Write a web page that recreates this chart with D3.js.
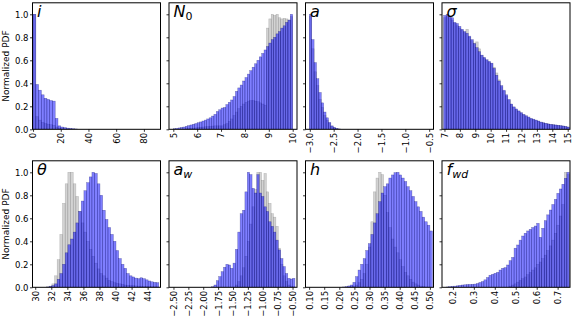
<!DOCTYPE html>
<html>
<head>
<meta charset="utf-8">
<script src="https://cdn.jsdelivr.net/npm/d3@7"></script>
<style>
	body { margin: 0; background: #fff; }
	svg { display: block; font-family: "DejaVu Sans", sans-serif; }
</style>
</head>
<body>
<div id="chart"></div>
<script>

// ---- data (normalized histogram heights) ----

// i
const iBinStart = 0, iBinWidth = 2;
const iBlue = [1.0, 0.39, 0.34, 0.30, 0.27, 0.26, 0.25, 0.245, 0.095, 0.03, 0.02, 0.015, 0.01, 0.008, 0.005, 0.003];
const iGrey = [1.0, 0.11, 0.08, 0.06, 0.05, 0.045, 0.04, 0.035, 0.02, 0.01, 0.005, 0.004, 0.003, 0.002, 0.001, 0];
const iTicks = [0, 20, 40, 60, 80];

// N0
const n0BinStart = 5.0, n0BinWidth = 0.1;
const n0Blue = [0.005, 0.008, 0.012, 0.016, 0.02, 0.026, 0.032, 0.038, 0.044, 0.05,
	0.057, 0.064, 0.072, 0.08, 0.09, 0.1, 0.115, 0.13, 0.155, 0.17,
	0.185, 0.19, 0.215, 0.235, 0.255, 0.285, 0.33, 0.36, 0.385, 0.42,
	0.45, 0.48, 0.51, 0.54, 0.57, 0.6, 0.63, 0.66, 0.69, 0.72,
	0.75, 0.78, 0.8, 0.83, 0.85, 0.88, 0.9, 0.93, 0.95, 1.0];
const n0Grey = [0, 0, 0, 0, 0.002, 0.004, 0.006, 0.008, 0.01, 0.012,
	0.015, 0.018, 0.02, 0.022, 0.024, 0.026, 0.028, 0.03, 0.03, 0.03,
	0.03, 0.04, 0.05, 0.07, 0.09, 0.12, 0.15, 0.18, 0.2, 0.22,
	0.235, 0.245, 0.25, 0.25, 0.245, 0.24, 0.23, 0.22, 0.21, 0.88,
	0.96, 1.0, 0.99, 1.0, 0.97, 0.96, 0.965, 0.96, 0.95, 0.98];
const n0Ticks = [5, 6, 7, 8, 9, 10];

// a
const aBinStart = -3.01, aBinWidth = 0.05;
const aBlue = [1.0, 0.78, 0.58, 0.44, 0.32, 0.23, 0.15, 0.10, 0.06, 0.03, 0.017, 0.008, 0.003];
const aGrey = [0.98, 0.7, 0.5, 0.38, 0.26, 0.19, 0.12, 0.08, 0.05, 0.025, 0.012, 0.005, 0.002];
const aTicks = [-3.0, -2.5, -2.0, -1.5, -1.0, -0.5];

// sigma
const sigBinStart = 6.95, sigBinWidth = 0.16;
const sigBlue = [0.99, 1.0, 0.985, 0.97, 0.93, 0.92, 0.895, 0.87, 0.85, 0.835,
	0.81, 0.78, 0.745, 0.71, 0.675, 0.645, 0.625, 0.605, 0.59, 0.575,
	0.53, 0.47, 0.42, 0.38, 0.34, 0.3, 0.26, 0.22, 0.195, 0.177,
	0.16, 0.145, 0.13, 0.118, 0.107, 0.095, 0.088, 0.08, 0.072, 0.063,
	0.057, 0.052, 0.047, 0.043, 0.04, 0.038, 0.035, 0.032, 0.029, 0.025, 0.02];
const sigGrey = [0.97, 0.98, 0.97, 0.95, 0.92, 0.9, 0.88, 0.86, 0.84, 0.87,
	0.8, 0.77, 0.75, 0.76, 0.7, 0.64, 0.62, 0.6, 0.585, 0.57,
	0.54, 0.49, 0.43, 0.37, 0.33, 0.29, 0.25, 0.215, 0.19, 0.17,
	0.155, 0.14, 0.125, 0.112, 0.1, 0.09, 0.082, 0.075, 0.068, 0.06,
	0.054, 0.049, 0.045, 0.041, 0.038, 0.035, 0.032, 0.03, 0.027, 0.023, 0.018];
const sigTicks = [7, 8, 9, 10, 11, 12, 13, 14, 15];

// theta
const thBinStart = 31.4, thBinWidth = 0.333;
const thBlue = [0.003, 0.008, 0.015, 0.03, 0.07, 0.12, 0.2, 0.3, 0.37, 0.42,
	0.48, 0.56, 0.66, 0.75, 0.84, 0.91, 0.96, 1.0, 0.99, 0.9,
	0.8, 0.67, 0.59, 0.52, 0.46, 0.4, 0.32, 0.25, 0.2, 0.165,
	0.12, 0.1, 0.09, 0.08, 0.075, 0.083, 0.075, 0.065, 0.055, 0.048,
	0.043, 0.04];
const thGrey = [0.003, 0.01, 0.03, 0.1, 0.24, 0.46, 0.73, 0.9, 1.0, 1.0,
	0.9, 0.79, 0.66, 0.56, 0.48, 0.4, 0.33, 0.27, 0.21, 0.16,
	0.12, 0.1, 0.08, 0.06, 0.05, 0.04, 0.035, 0.03, 0.025, 0.02,
	0.018, 0.016, 0.014, 0.012, 0.01, 0.01, 0.008, 0.008, 0.006, 0.005,
	0.004, 0.004];
const thTicks = [30, 32, 34, 36, 38, 40, 42, 44];

// a_w
const awBinStart = -1.86, awBinWidth = 0.04;
const awBlue = [0.005, 0.02, 0.058, 0.093, 0.136, 0.174, 0.2, 0.194, 0.165, 0.21,
	0.33, 0.48, 0.64, 0.67, 0.83, 1.0, 0.98, 0.86, 0.82, 0.98,
	0.82, 0.79, 0.7, 0.66, 0.57, 0.53, 0.48, 0.41, 0.325, 0.25,
	0.18, 0.12, 0.078, 0.072, 0.078];
const awGrey = [0, 0, 0, 0, 0, 0, 0, 0, 0, 0,
	0.02, 0.05, 0.1, 0.17, 0.27, 0.4, 0.55, 0.7, 0.85, 1.0,
	1.0, 0.93, 0.99, 0.83, 0.73, 0.64, 0.61, 0.53, 0.34, 0.2,
	0.1, 0.05, 0.02, 0.01, 0.005];
const awTicks = [-2.5, -2.25, -2.0, -1.75, -1.5, -1.25, -1.0, -0.75, -0.5];

// h
const hBinStart = 0.211, hBinWidth = 0.0085;
const hBlue = [0.003, 0.006, 0.012, 0.02, 0.043, 0.093, 0.15, 0.2, 0.25, 0.32,
	0.38, 0.46, 0.56, 0.64, 0.745, 0.82, 0.875, 0.9, 0.95, 0.977,
	0.997, 1.0, 0.977, 0.95, 0.92, 0.875, 0.84, 0.79, 0.745, 0.7,
	0.66, 0.61, 0.57, 0.54, 0.49];
const hGrey = [0, 0, 0.002, 0.005, 0.01, 0.02, 0.04, 0.07, 0.12, 0.2,
	0.35, 0.57, 0.83, 0.95, 1.0, 0.98, 0.8, 0.65, 0.52, 0.42,
	0.35, 0.3, 0.24, 0.18, 0.13, 0.1, 0.07, 0.045, 0.03, 0.02,
	0.01, 0.006, 0.003, 0.002, 0.001];
const hTicks = [0.10, 0.15, 0.20, 0.25, 0.30, 0.35, 0.40, 0.45, 0.50];

// f_wd
const fBinStart = 0.168, fBinWidth = 0.012;
const fBlue = [0.003, 0.006, 0.008, 0.01, 0.013, 0.017, 0.02, 0.022, 0.024, 0.025,
	0.026, 0.028, 0.033, 0.042, 0.05, 0.065, 0.085, 0.105, 0.113, 0.122,
	0.13, 0.15, 0.165, 0.171, 0.194, 0.232, 0.26, 0.34, 0.368, 0.41,
	0.446, 0.47, 0.49, 0.504, 0.52, 0.533, 0.556, 0.435, 0.513, 0.58,
	0.63, 0.672, 0.72, 0.765, 0.817, 0.855, 0.896, 0.948, 1.0];
const fGrey = [0, 0, 0, 0, 0, 0, 0, 0, 0, 0,
	0, 0, 0, 0, 0, 0, 0, 0, 0, 0,
	0, 0, 0, 0, 0, 0.01, 0.02, 0.03, 0.045, 0.06,
	0.075, 0.09, 0.11, 0.13, 0.15, 0.17, 0.2, 0.22, 0.25, 0.28,
	0.32, 0.36, 0.41, 0.47, 0.54, 0.62, 0.72, 1.0, 0.98];
const fTicks = [0.2, 0.3, 0.4, 0.5, 0.6, 0.7];

const yTicks = [0.0, 0.2, 0.4, 0.6, 0.8, 1.0];


/*
 * HistPanel - one subplot with a grey and a blue (semi-transparent) histogram
 */
class HistPanel {

	constructor(svg, config) {
		this.svg = svg;
		this.config = config;
		this.initVis();
	}

	initVis() {
		let vis = this;

		vis.width = 128;
		vis.height = 126.5;

		vis.g = vis.svg.append("g")
			.attr("transform", "translate(" + vis.config.left + "," + vis.config.top + ")");

		vis.x = d3.scaleLinear()
			.domain(vis.config.domain)
			.range([0, vis.width]);

		vis.y = d3.scaleLinear()
			.domain([0, 1.1])
			.range([vis.height, 0]);

		vis.g.append("clipPath")
			.attr("id", "clip-" + vis.config.id)
			.append("rect")
			.attr("width", vis.width)
			.attr("height", vis.height);

		vis.bars = vis.g.append("g")
			.attr("clip-path", "url(#clip-" + vis.config.id + ")");

		vis.wrangleData();
	}

	wrangleData() {
		let vis = this;
		let c = vis.config;

		vis.displayData = c.blue.map((v, i) => ({
			x0: c.start + i * c.step,
			x1: c.start + (i + 1) * c.step,
			blue: v,
			grey: c.grey[i]
		}));

		vis.updateVis();
	}

	updateVis() {
		let vis = this;
		let c = vis.config;

		// grey histogram underneath
		vis.bars.selectAll(".grey").data(vis.displayData.filter(d => d.grey > 0))
			.enter().append("rect")
			.attr("class", "grey")
			.attr("x", d => vis.x(d.x0))
			.attr("width", d => vis.x(d.x1) - vis.x(d.x0))
			.attr("y", d => vis.y(d.grey))
			.attr("height", d => vis.y(0) - vis.y(d.grey))
			.attr("fill", "#a8a8a8")
			.attr("fill-opacity", 0.5)
			.attr("stroke", "#555")
			.attr("stroke-opacity", 0.35)
			.attr("stroke-width", 0.5);

		// blue histogram on top
		vis.bars.selectAll(".blue").data(vis.displayData)
			.enter().append("rect")
			.attr("class", "blue")
			.attr("x", d => vis.x(d.x0))
			.attr("width", d => vis.x(d.x1) - vis.x(d.x0))
			.attr("y", d => vis.y(d.blue))
			.attr("height", d => vis.y(0) - vis.y(d.blue))
			.attr("fill", "#0000ff")
			.attr("fill-opacity", 0.5)
			.attr("stroke", "#000060")
			.attr("stroke-opacity", 0.45)
			.attr("stroke-width", 0.5);

		// x axis, labels rotated
		let xAxis = d3.axisBottom(vis.x)
			.tickValues(c.ticks)
			.tickFormat(d3.format(c.fmt))
			.tickSize(2.5);

		let xg = vis.g.append("g")
			.attr("transform", "translate(0," + vis.height + ")")
			.call(xAxis);
		xg.select(".domain").remove();
		xg.selectAll("line").attr("stroke-width", 0.8);
		xg.selectAll("text")
			.attr("transform", "rotate(-90)")
			.attr("text-anchor", "end")
			.attr("x", -3.5)
			.attr("y", 0)
			.attr("dy", "0.34em")
			.attr("font-size", 8.5)
			.attr("font-family", "DejaVu Sans")
			.attr("fill", "#000");

		// y axis, labels only on first column
		let yAxis = d3.axisLeft(vis.y)
			.tickValues(yTicks)
			.tickFormat(c.col === 0 ? d3.format(".1f") : "")
			.tickSize(2.5)
			.tickPadding(1.5);

		let yg = vis.g.append("g").call(yAxis);
		yg.select(".domain").remove();
		yg.selectAll("line").attr("stroke-width", 0.8);
		yg.selectAll("text")
			.attr("font-size", 8.5)
			.attr("font-family", "DejaVu Sans")
			.attr("fill", "#000");

		if (c.col === 0) {
			vis.g.append("text")
				.attr("transform", "translate(" + (-24) + "," + (vis.height / 2) + ") rotate(-90)")
				.attr("text-anchor", "middle")
				.attr("font-size", 9)
				.text("Normalized PDF");
		}

		// frame
		vis.g.append("rect")
			.attr("width", vis.width)
			.attr("height", vis.height)
			.attr("fill", "none")
			.attr("stroke", "#000")
			.attr("stroke-width", 1);

		// panel title (math-style label)
		let title = vis.g.append("text")
			.attr("x", 4.5)
			.attr("y", 14)
			.attr("font-size", 16)
			.attr("font-family", "DejaVu Sans");

		c.title.forEach(p => {
			let t = title.append("tspan")
				.attr("font-style", p.upright ? "normal" : "italic")
				.text(p.text);
			if (p.sub) {
				t.attr("font-size", 11).attr("dy", 3.5);
			}
		});
	}
}

let svg = d3.select("#chart").append("svg")
	.attr("width", 581)
	.attr("height", 323);

let lefts = [32.5, 169, 305.5, 442];
let tops = [2.8, 160.8];

let panels = [
	{ id: "i", domain: [-0.4, 92], start: iBinStart, step: iBinWidth, blue: iBlue, grey: iGrey, ticks: iTicks, fmt: "d",
		title: [{ text: "i" }] },
	{ id: "n0", domain: [4.82, 10.18], start: n0BinStart, step: n0BinWidth, blue: n0Blue, grey: n0Grey, ticks: n0Ticks, fmt: "d",
		title: [{ text: "N" }, { text: "0", sub: true, upright: true }] },
	{ id: "a", domain: [-3.09, -0.41], start: aBinStart, step: aBinWidth, blue: aBlue, grey: aGrey, ticks: aTicks, fmt: ".1f",
		title: [{ text: "a" }] },
	{ id: "sig", domain: [6.84, 15.15], start: sigBinStart, step: sigBinWidth, blue: sigBlue, grey: sigGrey, ticks: sigTicks, fmt: "d",
		title: [{ text: "σ" }] },
	{ id: "th", domain: [29.66, 45.6], start: thBinStart, step: thBinWidth, blue: thBlue, grey: thGrey, ticks: thTicks, fmt: "d",
		title: [{ text: "θ" }] },
	{ id: "aw", domain: [-2.575, -0.425], start: awBinStart, step: awBinWidth, blue: awBlue, grey: awGrey, ticks: awTicks, fmt: ".2f",
		title: [{ text: "a" }, { text: "w", sub: true }] },
	{ id: "h", domain: [0.088, 0.512], start: hBinStart, step: hBinWidth, blue: hBlue, grey: hGrey, ticks: hTicks, fmt: ".2f",
		title: [{ text: "h" }] },
	{ id: "f", domain: [0.148, 0.759], start: fBinStart, step: fBinWidth, blue: fBlue, grey: fGrey, ticks: fTicks, fmt: ".1f",
		title: [{ text: "f" }, { text: "wd", sub: true }] }
];

panels.forEach((p, k) => {
	p.col = k % 4;
	p.left = lefts[k % 4];
	p.top = tops[Math.floor(k / 4)];
	new HistPanel(svg, p);
});

</script>
</body>
</html>
